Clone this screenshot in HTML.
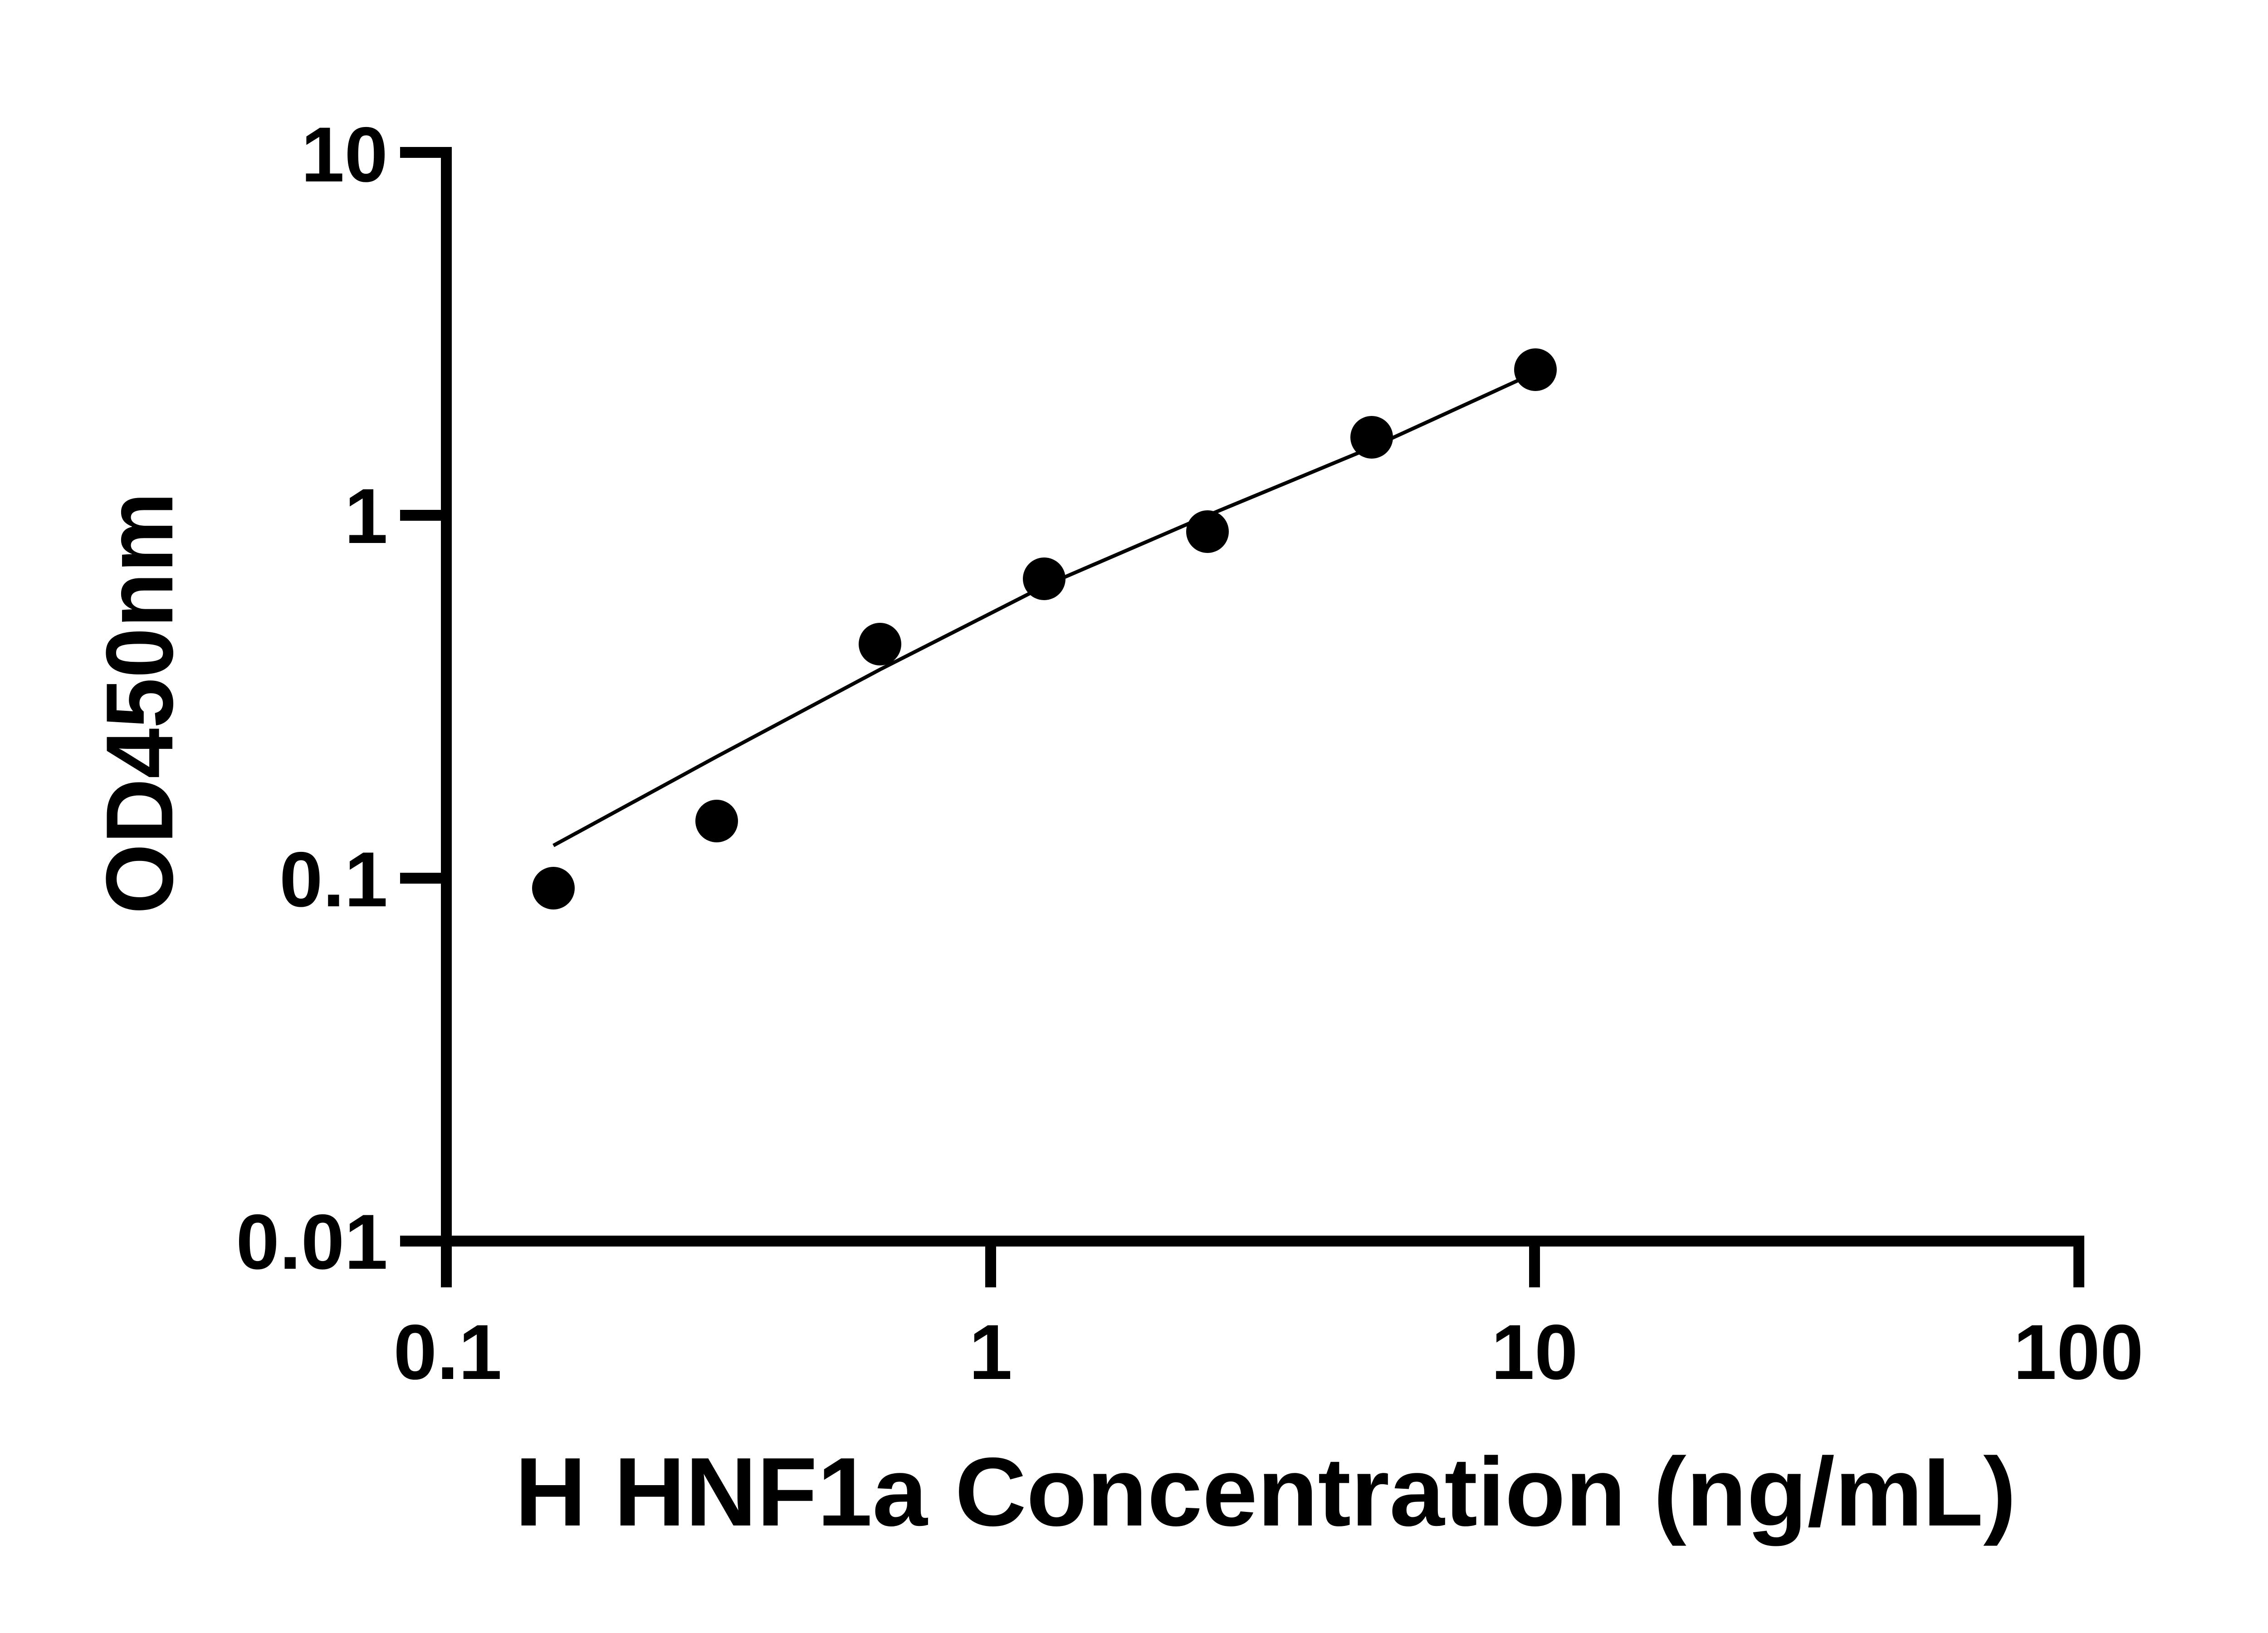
<!DOCTYPE html>
<html><head><style>html,body{margin:0;padding:0;background:#fff}svg{display:block}</style></head>
<body>
<svg width="5136" height="3600" viewBox="0 0 5136 3600" xmlns="http://www.w3.org/2000/svg">
<rect width="5136" height="3600" fill="#fff"/>
<g stroke="#000" fill="none">
<line x1="984" y1="324" x2="984" y2="2838" stroke-width="24"/>
<line x1="972" y1="2736" x2="4595" y2="2736" stroke-width="24"/>
<g stroke-width="24">
<line x1="882" y1="336" x2="984" y2="336"/>
<line x1="882" y1="1136" x2="984" y2="1136"/>
<line x1="882" y1="1936" x2="984" y2="1936"/>
<line x1="882" y1="2736" x2="984" y2="2736"/>
<line x1="2184" y1="2736" x2="2184" y2="2838"/>
<line x1="3383" y1="2736" x2="3383" y2="2838"/>
<line x1="4583" y1="2724" x2="4583" y2="2838"/>
</g>
<polyline stroke-width="8" stroke-linejoin="round" points="1220,1864 1580,1668 1940,1476 2306,1290 2663,1136 3027,985 3370,828"/>
</g>
<g fill="#000">
<circle cx="1220" cy="1958" r="47"/>
<circle cx="1580" cy="1810" r="47"/>
<circle cx="1940" cy="1420" r="47"/>
<circle cx="2302" cy="1276" r="47"/>
<circle cx="2662" cy="1172" r="47"/>
<circle cx="3024" cy="964" r="47"/>
<circle cx="3385" cy="815" r="47"/>
</g>
<g font-family="Liberation Sans, sans-serif" font-weight="bold" fill="#000">
<g font-size="172" text-anchor="end">
<text x="855" y="400">10</text>
<text x="855" y="1197">1</text>
<text x="855" y="1998">0.1</text>
<text x="855" y="2797">0.01</text>
</g>
<g font-size="172" text-anchor="middle">
<text x="987" y="3040">0.1</text>
<text x="2184" y="3040">1</text>
<text x="3383" y="3040">10</text>
<text x="4582" y="3040">100</text>
</g>
<text x="2790" y="3363" font-size="215" text-anchor="middle" textLength="3310" lengthAdjust="spacingAndGlyphs">H HNF1a Concentration (ng/mL)</text>
<text transform="translate(380,1550) rotate(-90)" font-size="210" text-anchor="middle" textLength="930" lengthAdjust="spacingAndGlyphs">OD450nm</text>
</g>
</svg>
</body></html>
